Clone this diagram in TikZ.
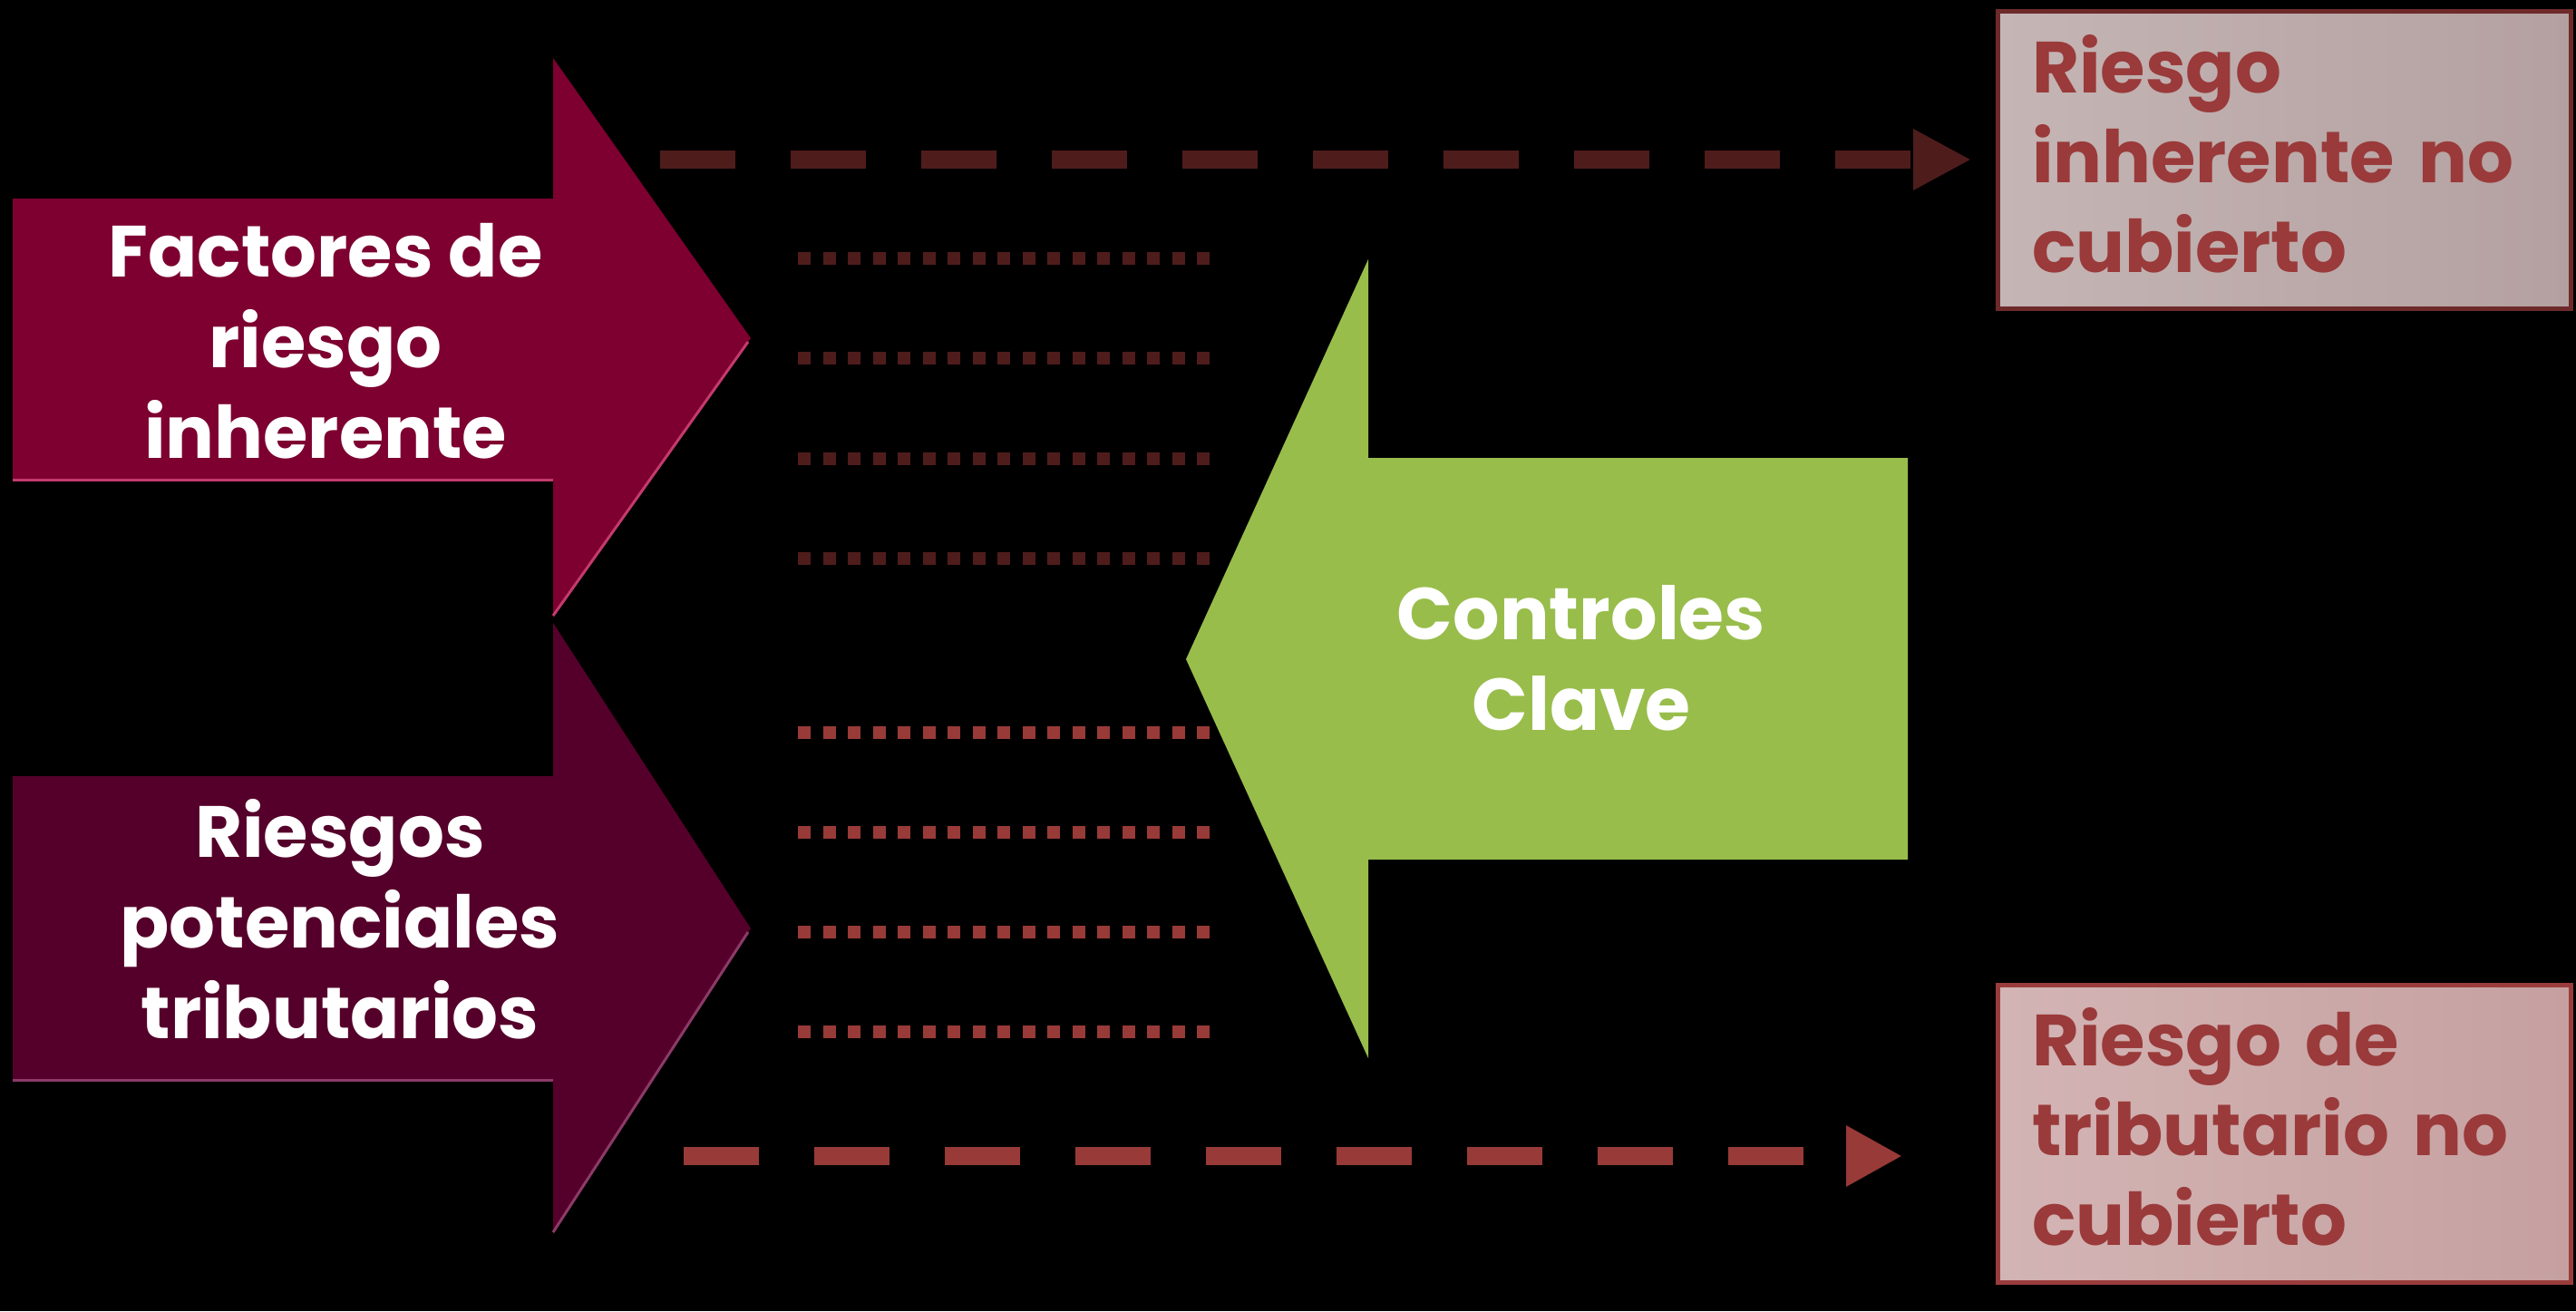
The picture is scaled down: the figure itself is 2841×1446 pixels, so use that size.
\documentclass[tikz,border=0pt]{standalone}
\usepackage{fontspec}
\setmainfont{Poppins}
\usetikzlibrary{arrows.meta}
\definecolor{arrA}{HTML}{7D0030}
\definecolor{arrAhl}{HTML}{C43A6C}
\definecolor{arrB}{HTML}{55002A}
\definecolor{arrBhl}{HTML}{8C3A68}
\definecolor{grn}{HTML}{98BD4B}
\definecolor{dkred}{HTML}{4F1C1C}
\definecolor{mdred}{HTML}{983A37}
\definecolor{boxAline}{HTML}{6E2A2A}
\definecolor{boxBline}{HTML}{9B3C3C}
\definecolor{boxtext}{HTML}{9A3A3A}
\definecolor{boxAl}{HTML}{C5B5B5}
\definecolor{boxAr}{HTML}{B4A0A0}
\definecolor{boxBl}{HTML}{D3B4B4}
\definecolor{boxBr}{HTML}{C6A0A0}
\begin{document}
\begin{tikzpicture}[x=1pt,y=-1pt,
  armtext/.style={align=center,text=white,font=\fontsize{80}{100}\selectfont\bfseries,inner sep=0pt},
  grntext/.style={align=center,text=white,font=\fontsize{81}{100}\selectfont\bfseries,inner sep=0pt},
  outbox/.style={line width=5pt,minimum width=632pt,minimum height=328pt,text width=557pt,align=left,
     text=boxtext,font=\fontsize{80}{99}\selectfont\bfseries,inner sep=0pt},
  boxlabel/.style={text width=557pt,align=left,text=boxtext,font=\fontsize{80}{99}\selectfont\bfseries,inner sep=0pt},
  dashline/.style={line width=20pt,dash pattern=on 83pt off 61pt},
  dotline/.style={line width=14pt,dash pattern=on 14pt off 13.5pt},
  hl/.style={line width=3pt}]
\fill[black] (0,0) rectangle (2841,1446);
\useasboundingbox (0,0) rectangle (2841,1446);

% big arrow 1
\fill[arrA] (14,219) -- (610,219) -- (610,64) -- (828,373) -- (610,681) -- (610,530) -- (14,530) -- cycle;
\draw[hl,arrAhl] (14,529) -- (610,529);
\draw[hl,arrAhl] (825,377) -- (610,679);
\node[armtext] (fac) at (359,376) {Factores de\\riesgo\\inherente};

% big arrow 2
\fill[arrB] (14,856) -- (610,856) -- (610,687) -- (828,1024) -- (610,1361) -- (610,1192) -- (14,1192) -- cycle;
\draw[hl,arrBhl] (14,1191) -- (610,1191);
\draw[hl,arrBhl] (825,1028) -- (610,1359);
\node[armtext] (rie) at (375,1014) {Riesgos\\potenciales\\tributarios};

% green arrow
\fill[grn] (2104,505) -- (1509,505) -- (1509,286) -- (1308,727) -- (1509,1167) -- (1509,948) -- (2104,948) -- cycle;
\node[grntext] (ctl) at (1744,726) {Controles\\Clave};

% dotted lines
\foreach \yy in {285,395,506,616} {
  \coordinate (ds\yy) at (880,\yy); \coordinate (de\yy) at (1336,\yy);
  \draw[dotline,dkred] (ds\yy) -- (de\yy);
}
\foreach \yy in {808,918,1028,1138} {
  \coordinate (ds\yy) at (880,\yy); \coordinate (de\yy) at (1336,\yy);
  \draw[dotline,mdred] (ds\yy) -- (de\yy);
}

% output boxes
\node[outbox,draw=boxAline,left color=boxAl,right color=boxAr]
  (boxA) at (2519.5,176.5) {};
\node[boxlabel] (boxAt) at (2519.5,170) {Riesgo\\inherente no\\cubierto};
\node[outbox,draw=boxBline,left color=boxBl,right color=boxBr]
  (boxB) at (2519.5,1250) {};
\node[boxlabel] (boxBt) at (2519.5,1243) {Riesgo de\\tributario no\\cubierto};

% dashed connectors
\coordinate (tA) at (728,176);
\coordinate (tB) at (754,1275);
\coordinate (eB) at (2098,1275);
\draw[dashline,dkred,-{Triangle[length=64pt,width=63pt]}] (tA) -- ([xshift=-27pt]boxA.west |- tA);
\draw[dashline,mdred,-{Triangle[length=62pt,width=63pt]}] (tB) -- (eB);
\end{tikzpicture}
\end{document}
